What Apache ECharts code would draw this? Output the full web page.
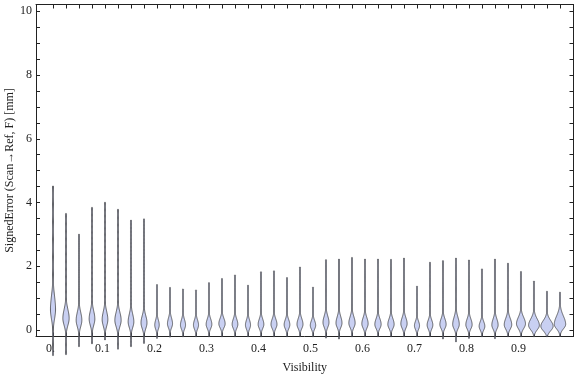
<!DOCTYPE html>
<html>
<head>
<meta charset="utf-8">
<script src="https://cdn.jsdelivr.net/npm/echarts@6/dist/echarts.min.js"></script>
<style>
  html, body { margin: 0; padding: 0; background: #fff; }
  #main { width: 576px; height: 377px; }
</style>
</head>
<body>
<div id="main"></div>
<script>
// violin centres on the Visibility axis
var xs = [0.005, 0.03, 0.055, 0.08, 0.105, 0.13, 0.155, 0.18, 0.205, 0.23,
  0.255, 0.28, 0.305, 0.33, 0.355, 0.38, 0.405, 0.43, 0.455, 0.48,
  0.505, 0.53, 0.555, 0.58, 0.605, 0.63, 0.655, 0.68, 0.705, 0.73,
  0.755, 0.78, 0.805, 0.83, 0.855, 0.88, 0.905, 0.93, 0.955, 0.98]
// lowest / highest signed error in each bin [mm]
var lows = [-0.8, -0.77, -0.52, -0.43, -0.31, -0.6, -0.52, -0.42, -0.26, -0.22,
  -0.21, -0.21, -0.21, -0.21, -0.21, -0.21, -0.21, -0.21, -0.21, -0.21,
  -0.21, -0.25, -0.28, -0.21, -0.21, -0.21, -0.21, -0.21, -0.21, -0.21,
  -0.28, -0.37, -0.26, -0.21, -0.27, -0.21, -0.21, -0.21, -0.21, -0.2]
var highs = [4.52, 3.66, 3.01, 3.85, 4.01, 3.79, 3.45, 3.49, 1.43, 1.34,
  1.29, 1.26, 1.49, 1.62, 1.73, 1.41, 1.83, 1.86, 1.65, 1.98,
  1.35, 2.21, 2.23, 2.28, 2.23, 2.23, 2.22, 2.26, 1.38, 2.13,
  2.18, 2.26, 2.2, 1.92, 2.23, 2.1, 1.84, 1.54, 1.22, 1.19]
// where the bulk of each distribution sits, how wide it is, and its spread up / down
var modes = [0.65, 0.37, 0.31, 0.35, 0.33, 0.31, 0.26, 0.23, 0.16, 0.2,
  0.16, 0.16, 0.18, 0.2, 0.18, 0.16, 0.18, 0.18, 0.17, 0.18,
  0.15, 0.24, 0.22, 0.22, 0.2, 0.18, 0.18, 0.2, 0.14, 0.16,
  0.18, 0.18, 0.17, 0.12, 0.16, 0.17, 0.2, 0.15, 0.12, 0.18]
var density = [0.85, 1.05, 0.95, 0.95, 0.95, 1.05, 0.95, 1.0, 0.75, 0.85,
  0.85, 0.85, 0.95, 1.05, 0.95, 0.85, 0.95, 1.0, 0.95, 1.0,
  0.9, 1.0, 1.0, 1.05, 1.05, 1.05, 1.05, 1.05, 0.85, 0.95,
  1.05, 1.1, 1.05, 0.95, 1.05, 1.25, 1.5, 1.8, 2.05, 1.9]
var spreadUp = [0.42, 0.28, 0.25, 0.25, 0.25, 0.25, 0.24, 0.22, 0.16, 0.18,
  0.17, 0.16, 0.17, 0.17, 0.17, 0.16, 0.17, 0.17, 0.16, 0.18,
  0.15, 0.2, 0.2, 0.2, 0.19, 0.18, 0.18, 0.19, 0.14, 0.16,
  0.18, 0.22, 0.18, 0.15, 0.19, 0.2, 0.2, 0.2, 0.18, 0.26]
var spreadDown = [0.3, 0.22, 0.2, 0.2, 0.2, 0.2, 0.18, 0.18, 0.13, 0.13,
  0.13, 0.13, 0.13, 0.13, 0.13, 0.13, 0.13, 0.13, 0.13, 0.13,
  0.12, 0.15, 0.14, 0.14, 0.14, 0.13, 0.13, 0.14, 0.12, 0.13,
  0.13, 0.14, 0.13, 0.12, 0.13, 0.14, 0.15, 0.14, 0.14, 0.14]

var xLabels = [0, 0.1, 0.2, 0.3, 0.4, 0.5, 0.6, 0.7, 0.8, 0.9]
var yLabels = [0, 2, 4, 6, 8, 10]
var yTicks = [0, 0.5, 1, 1.5, 2, 2.5, 3, 3.5, 4, 4.5, 5, 5.5, 6, 6.5, 7, 7.5, 8, 8.5, 9, 9.5, 10]

var XMIN = -0.0277
var XMAX = 1.006
var YMIN = -0.2
var YMAX = 10.21
var WIDTH_PX = 3.0 // half width in px of a violin with density 1
var THIN = 0.5

var font = 'Liberation Serif, DejaVu Serif, serif'
var ink = '#222'

var myChart = echarts.init(document.getElementById('main'))

function renderViolin (params, api) {
  var x = api.value(0)
  var lo = api.value(1)
  var hi = api.value(2)
  var m = api.value(3)
  var w = api.value(4) * WIDTH_PX
  var su = api.value(5)
  var sd = api.value(6)
  var n = 160
  var left = []
  var right = []
  for (var k = 0; k <= n; k++) {
    var y = lo + (hi - lo) * k / n
    var s = y > m ? su : sd
    var d = (y - m) / s
    var hw = Math.max(THIN, w * Math.exp(-0.5 * d * d))
    if (k === 0 || k === n) hw = 0.2
    var p = api.coord([x, y])
    left.push([p[0] - hw, p[1]])
    right.unshift([p[0] + hw, p[1]])
  }
  return {
    type: 'polygon',
    shape: { points: left.concat(right) },
    style: {
      fill: '#c9d0f2',
      stroke: 'rgba(35,35,35,0.9)',
      lineWidth: 0.75
    }
  }
}

var data = xs.map(function (x, i) {
  return [x, lows[i], highs[i], modes[i], density[i], spreadUp[i], spreadDown[i]]
})

myChart.setOption({
  animation: false,
  grid: {
    left: 36,
    right: 2.5,
    top: 4.5,
    bottom: 40.5,
    outerBoundsMode: 'none',
    containLabel: false
  },
  xAxis: [
    {
      type: 'value',
      position: 'bottom',
      min: XMIN,
      max: XMAX,
      name: 'Visibility',
      nameLocation: 'middle',
      nameGap: 25,
      nameMoveOverlap: false,
      nameTextStyle: { fontFamily: font, fontSize: 12, color: ink },
      axisLine: { show: true, onZero: false, lineStyle: { color: ink, width: 1 } },
      axisTick: { show: true, inside: true, length: 4, customValues: xs, lineStyle: { color: ink } },
      axisLabel: {
        show: true,
        customValues: xLabels,
        margin: 6,
        fontFamily: font,
        fontSize: 12,
        color: ink,
        formatter: function (v) { return v === 0 ? '0.' : String(v) }
      },
      splitLine: { show: false }
    },
    {
      type: 'value',
      position: 'top',
      min: XMIN,
      max: XMAX,
      axisLine: { show: true, onZero: false, lineStyle: { color: ink, width: 1 } },
      axisTick: { show: true, inside: true, length: 4, customValues: xs, lineStyle: { color: ink } },
      axisLabel: { show: false },
      splitLine: { show: false }
    }
  ],
  yAxis: [
    {
      type: 'value',
      position: 'left',
      min: YMIN,
      max: YMAX,
      name: 'SignedError (Scan\u2192Ref, F) [mm]',
      nameLocation: 'middle',
      nameGap: 20,
      nameMoveOverlap: false,
      nameTextStyle: { fontFamily: font, fontSize: 12, color: ink },
      axisLine: { show: true, onZero: false, lineStyle: { color: ink, width: 1 } },
      axisTick: { show: true, inside: true, length: 4, customValues: yTicks, lineStyle: { color: ink } },
      axisLabel: { show: true, customValues: yLabels, margin: 4, fontFamily: font, fontSize: 12, color: ink },
      splitLine: { show: false }
    },
    {
      type: 'value',
      position: 'right',
      min: YMIN,
      max: YMAX,
      axisLine: { show: true, onZero: false, lineStyle: { color: ink, width: 1 } },
      axisTick: { show: true, inside: true, length: 4, customValues: yTicks, lineStyle: { color: ink } },
      axisLabel: { show: false },
      splitLine: { show: false }
    }
  ],
  series: [
    {
      name: 'violins',
      type: 'custom',
      xAxisIndex: 0,
      yAxisIndex: 0,
      clip: false,
      renderItem: renderViolin,
      data: data,
      z: 5
    }
  ]
})

window.onresize = function () {
  myChart.resize()
}
</script>
</body>
</html>
